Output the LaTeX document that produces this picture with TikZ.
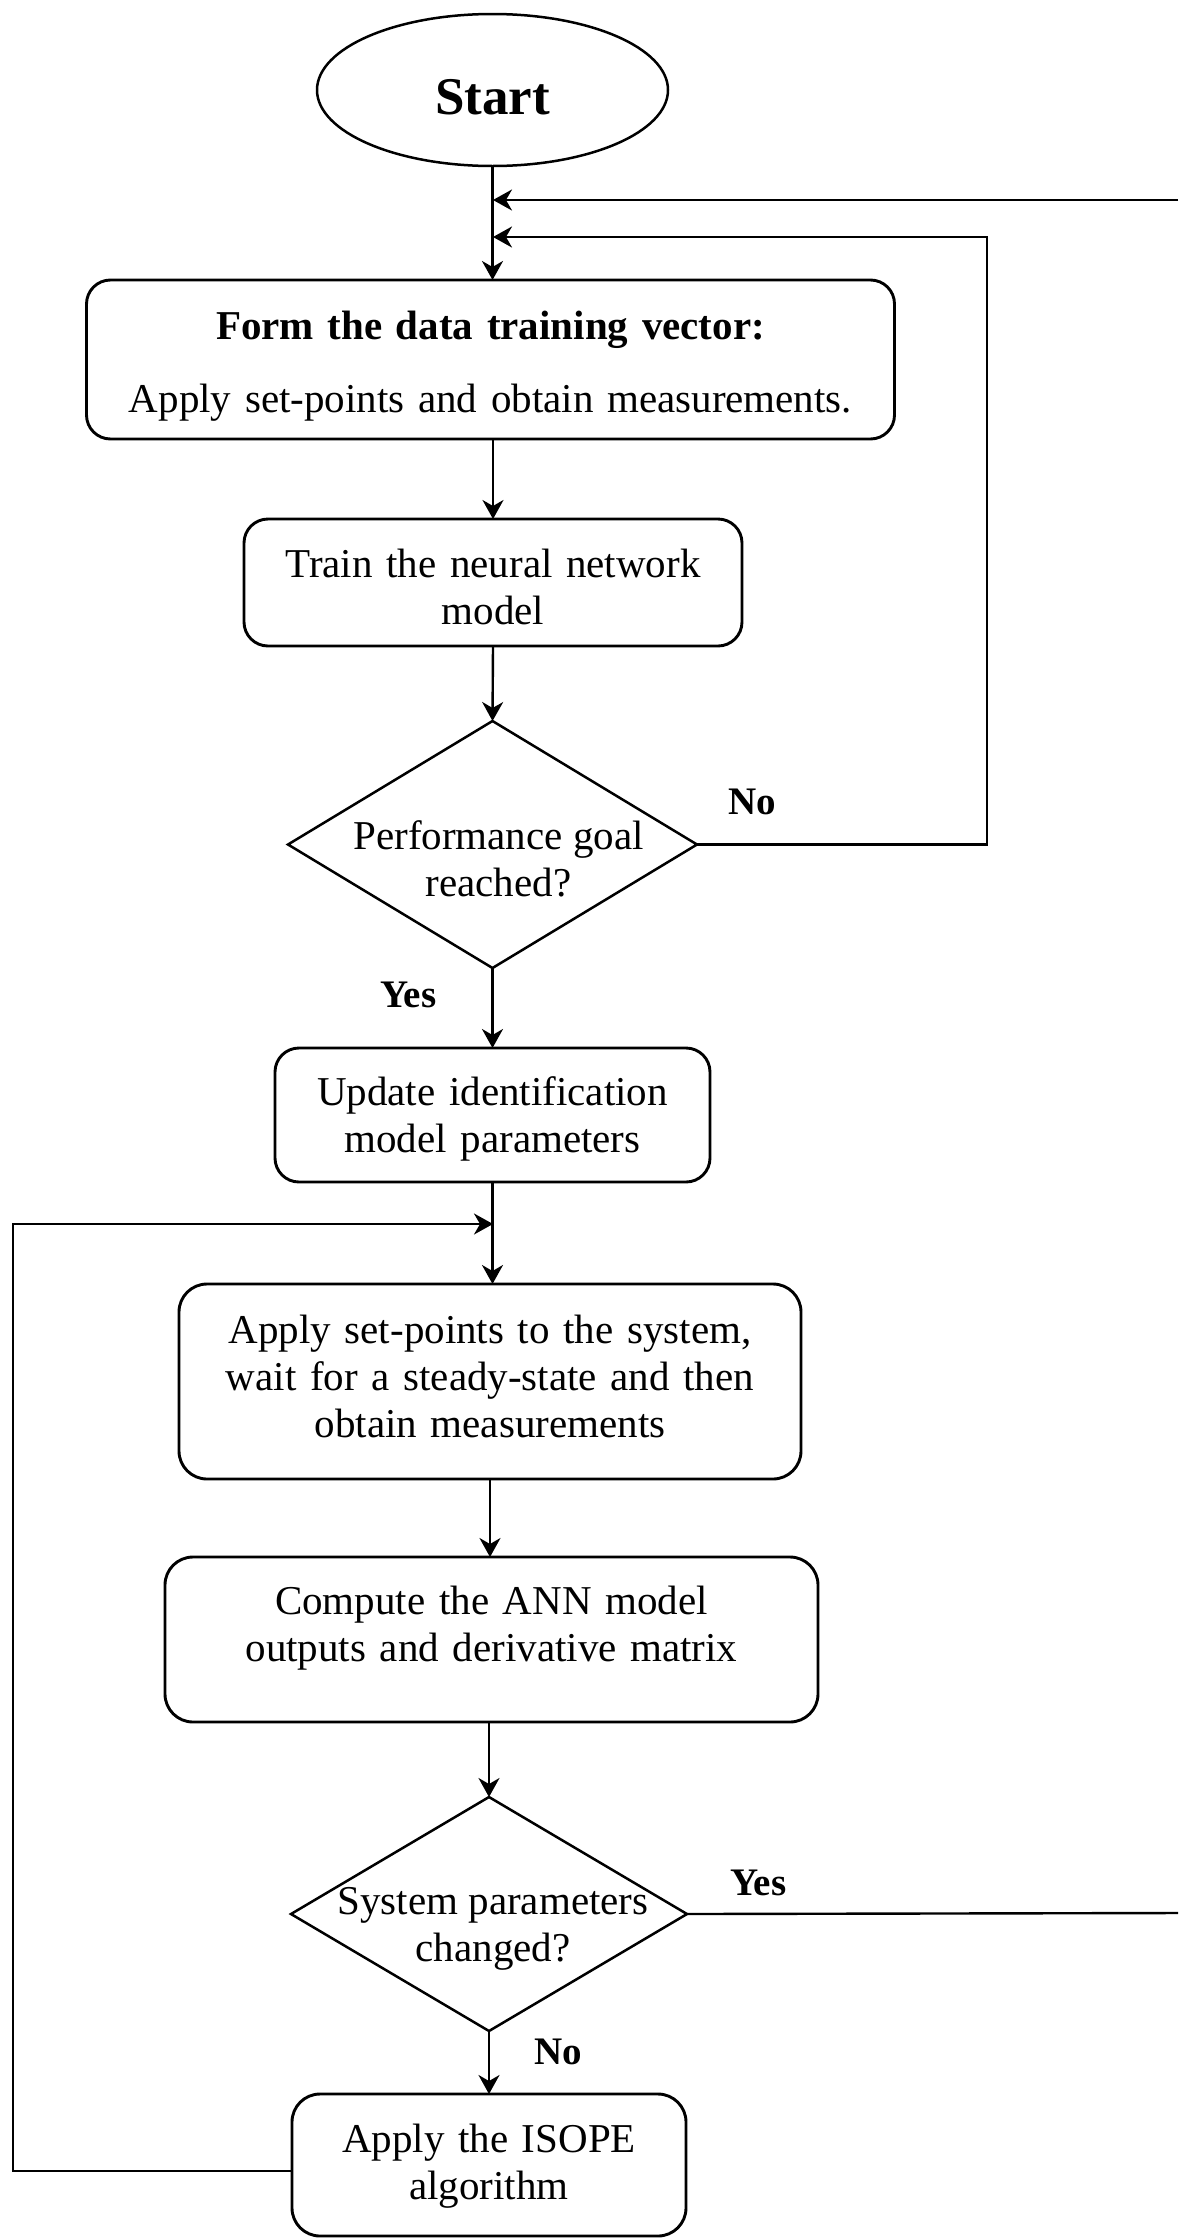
\documentclass[tikz,border=0pt]{standalone}
\usepackage{fontspec}
\setmainfont{Liberation Serif}
\usetikzlibrary{shapes.geometric,arrows.meta}

% invisible struts that fix the height of a first line / depth of a last line
\newcommand{\tsup}[1]{\rule{0pt}{#1pt}}
\newcommand{\tsdn}[1]{\rule[-#1pt]{0pt}{#1pt}}

\begin{document}
\begin{tikzpicture}[x=1pt,y=-1pt,
  every node/.style={inner sep=0pt, outer sep=0pt},
  body/.style={font=\fontsize{41}{47}\selectfont},
  box/.style={draw, line width=2.9pt, rounded corners=24pt, align=center, body},
  decision/.style={draw, diamond, line width=2.5pt, inner sep=0pt},
  conn/.style={line width=2.4pt},
  arr/.style={conn, -{Stealth[length=19pt,width=21pt,inset=6pt]}},
  lbl/.style={font=\fontsize{39}{45}\selectfont\bfseries, anchor=base west}
]
\fill[white] (0,0) rectangle (1178,2238);
\useasboundingbox (0,0) rectangle (1178,2238);

% terminal
\node[draw, ellipse, line width=2.5pt, minimum width=351pt, minimum height=152pt,
      font=\fontsize{53}{60}\selectfont\bfseries] (start) at (492.5,90) {\tsup{50}Start};

% process steps
\node[box, text width=780pt, minimum width=808pt, minimum height=159pt] (b1) at (490.5,359.5)
  {\tsup{46}\textbf{Form the data training vector:}\\[26pt]Apply set-points and obtain measurements.\tsdn{14}};
\node[box, text width=470pt, minimum width=498pt, minimum height=127pt] (b2) at (493,582.5)
  {\tsup{50}Train the neural network\\model\tsdn{14}};
\node[decision, minimum width=409pt, minimum height=247pt] (d1) at (492.5,844.5) {};
\node[body, align=center, xshift=6pt] (d1t) at (d1.center) {\tsup{70}Performance goal\\reached?\tsdn{14}};
\node[box, text width=410pt, minimum width=435pt, minimum height=134pt] (b3) at (492.5,1115)
  {\tsup{41}Update identification\\model parameters\tsdn{14}};
\node[box, rounded corners=28pt, text width=600pt, minimum width=622pt, minimum height=195pt] (b4) at (490,1381.5)
  {\tsup{31}Apply set-points to the system,\\wait for a steady-state and then\\obtain measurements\tsdn{14}};
\node[box, rounded corners=28pt, text width=630pt, minimum width=653pt, minimum height=165pt] (b5) at (491.5,1639.5)
  {\tsup{32}Compute the ANN model\\outputs and derivative matrix\tsdn{36}};
\node[decision, minimum width=396pt, minimum height=234pt] (d2) at (489,1914) {};
\node[body, align=center, xshift=4pt] (d2t) at (d2.center) {\tsup{61}System parameters\\changed?\tsdn{14}};
\node[box, rounded corners=28pt, text width=370pt, minimum width=394pt, minimum height=142pt] (b6) at (489,2165)
  {\tsup{32}Apply the ISOPE\\algorithm\tsdn{11}};

% branch labels
\node[lbl] (lno1) at (728,814) {No};
\node[lbl] (lyes1) at (380,1007) {Yes};
\node[lbl] (lyes2) at (730,1895) {Yes};
\node[lbl] (lno2) at (534,2064) {No};

% junction points and free ends
\coordinate (in1) at (493,200);
\coordinate (in2) at (493,237);
\coordinate (e1) at (1178,200);
\coordinate (rl) at (987,237);
\coordinate (in3) at (493,1224);
\coordinate (ll) at (13,1224);
\coordinate (e2) at (1178,1913);

% main flow
\draw[arr] (start.south) -- (start.south |- b1.north);
\draw[arr] (b2.north |- b1.south) -- (b2.north);
\draw[arr] (b2.south) -- (d1.north);
\draw[arr] (d1.south) -- (b3.north);
\draw[arr] (b3.south) -- (b3.south |- b4.north);
\draw[arr] (b4.south) -- (b4.south |- b5.north);
\draw[arr] (b5.south -| d2.north) -- (d2.north);
\draw[arr] (d2.south) -- (b6.north);

% feedback loops
\draw[arr] (e1) -- (in1);
\draw[arr] (d1.east) -| (rl) -- (in2);
\draw[arr] ([yshift=-6pt]b6.west) -| (ll) -- (in3);
\draw[conn] (d2.east) -- (e2);
\end{tikzpicture}
\end{document}
